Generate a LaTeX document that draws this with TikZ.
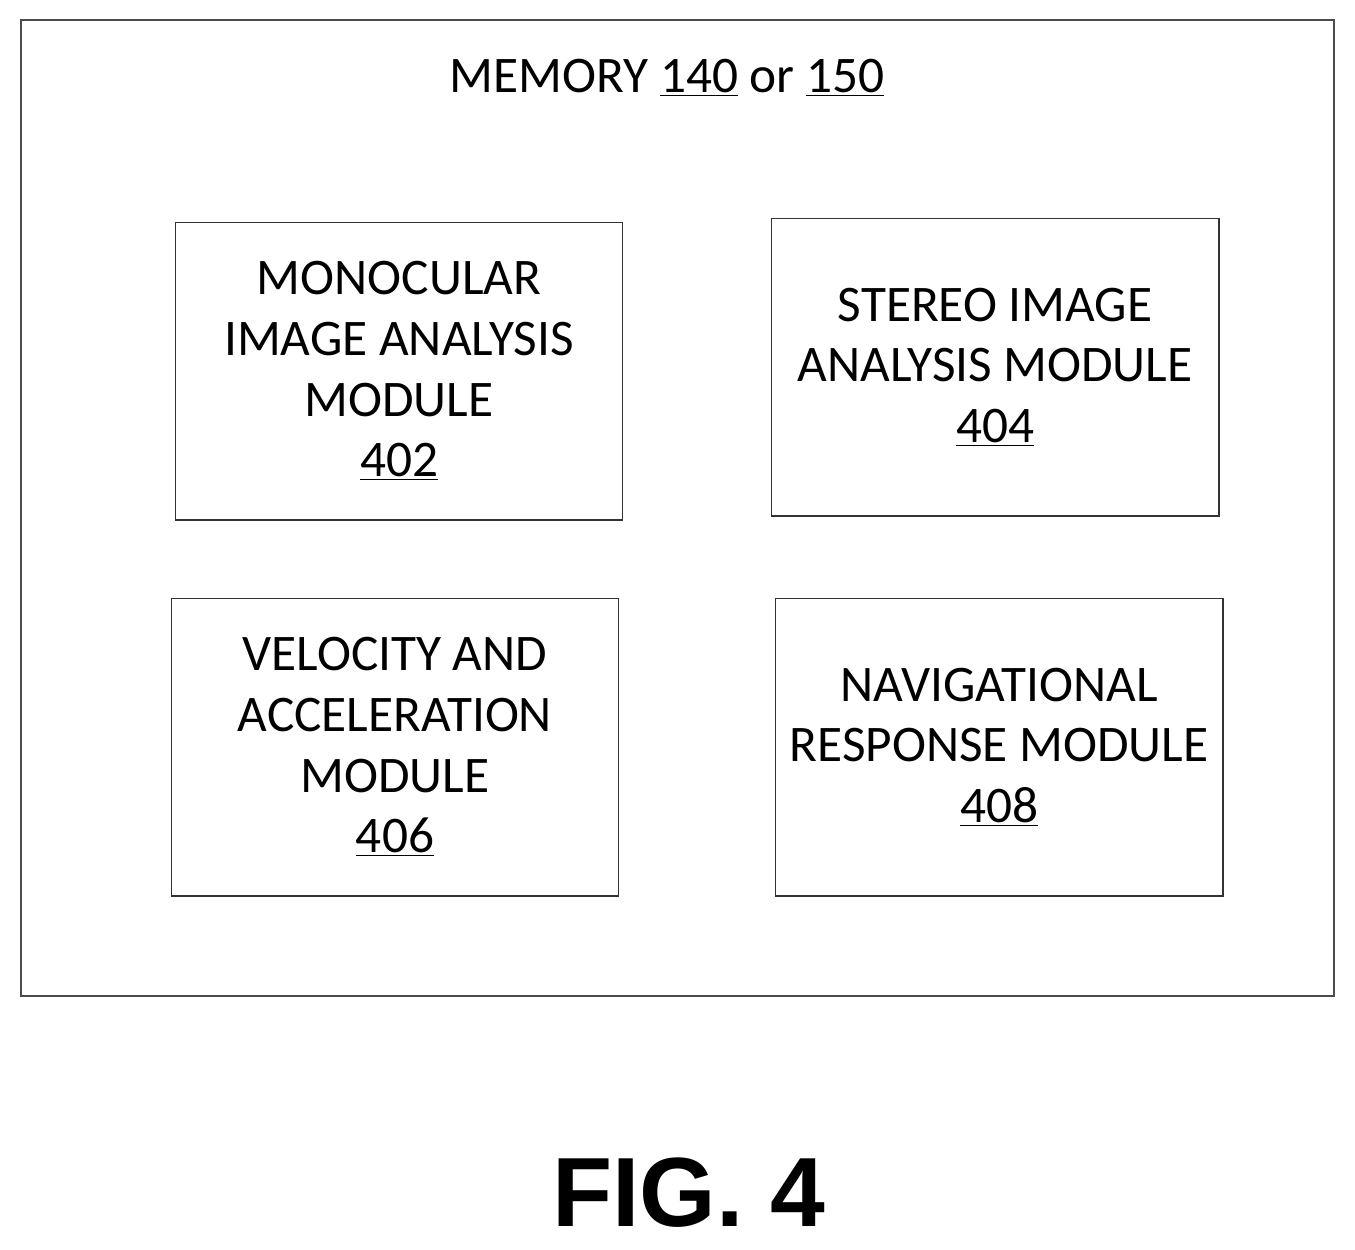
\documentclass[tikz,border=0pt]{standalone}
\usepackage{fontspec}
\setmainfont{Carlito}
\newfontfamily\figfont{Liberation Sans}
\usetikzlibrary{positioning}

\tikzset{
  module/.style={draw=black!80, line width=0.6pt, minimum width=8.96cm,
    minimum height=5.96cm, align=center, inner sep=0pt,
    font=\fontsize{29.2}{34.5}\selectfont},
}

\begin{document}
\begin{tikzpicture}[x=0.02cm,y=-0.02cm]

  \useasboundingbox (0,0) rectangle (1355,1250);

  \draw [black!70, line width=0.6pt] (21,20) rectangle (1334,996);

  \node (memory) at (667,78) [font=\fontsize{29.2}{34.5}\selectfont]
    {MEMORY \underline{140} or \underline{150}};

  \node [module] (mono) at (399,371)
    {MONOCULAR\\IMAGE ANALYSIS\\MODULE\\\underline{402}};
  \node [module] (stereo) at (995,367)
    {STEREO IMAGE\\ANALYSIS MODULE\\\underline{404}};
  \node [module] (velocity) at (395,747)
    {VELOCITY AND\\ACCELERATION\\MODULE\\\underline{406}};
  \node [module] (nav) at (999,747)
    {NAVIGATIONAL\\RESPONSE MODULE\\\underline{408}};

  \node (fig) at (689,1193) [font=\figfont\bfseries\fontsize{56}{64}\selectfont]
    {FIG. 4};

\end{tikzpicture}
\end{document}
